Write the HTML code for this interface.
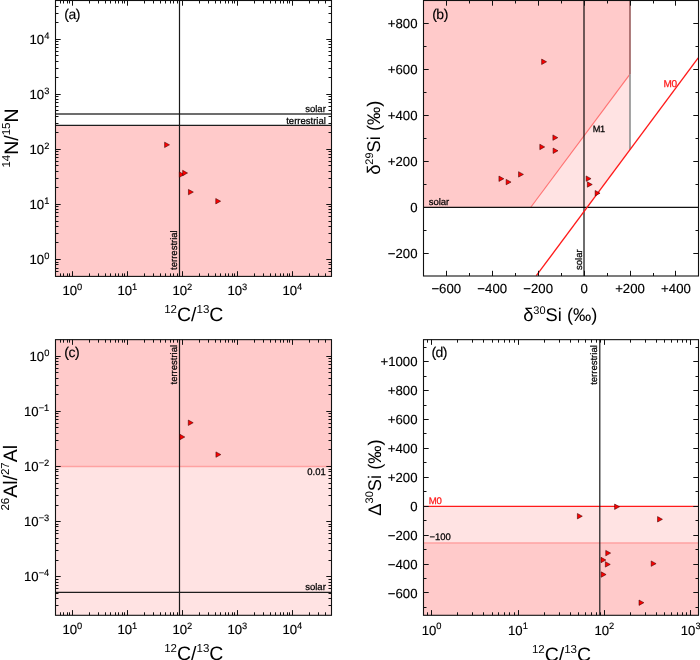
<!DOCTYPE html>
<html><head><meta charset="utf-8"><style>
html,body{margin:0;padding:0;background:#fff;width:700px;height:660px;overflow:hidden;}
svg{display:block;font-family:'Liberation Sans', sans-serif;will-change:transform;text-rendering:geometricPrecision;}
</style></head><body>
<svg width="700" height="660" viewBox="0 0 700 660" font-family="'Liberation Sans', sans-serif">
<rect width="700" height="660" fill="#fff"/>
<rect x="55.50" y="125.48" width="276.00" height="150.92" fill="#ffcaca"/>
<line x1="55.50" y1="114.00" x2="331.50" y2="114.00" stroke="#3c3c3c" stroke-width="1.6" />
<line x1="55.50" y1="125.40" x2="331.50" y2="125.40" stroke="#1e1e1e" stroke-width="1.2" />
<line x1="179.50" y1="0.50" x2="179.50" y2="276.40" stroke="#1a1a1a" stroke-width="1.2" />
<text x="325.80" y="111.70" font-size="9.5" text-anchor="end" fill="#000" stroke="#000" stroke-width="0.25" >solar</text>
<text x="325.80" y="123.80" font-size="9.5" text-anchor="end" fill="#000" stroke="#000" stroke-width="0.25" >terrestrial</text>
<text transform="translate(177.30,269.90) rotate(-90)" font-size="9.5" fill="#000" stroke="#000" stroke-width="0.25" >terrestrial</text>
<text x="64.30" y="18.60" font-size="14" text-anchor="start" fill="#000" stroke="#000" stroke-width="0.15" letter-spacing="-0.5">(a)</text>
<polygon points="164.60,142.15 169.50,144.85 164.60,147.55" fill="#ff0000" stroke="#3a0000" stroke-width="0.55"/>
<polygon points="179.35,171.90 184.25,174.60 179.35,177.30" fill="#ff0000" stroke="#3a0000" stroke-width="0.55"/>
<polygon points="182.65,170.30 187.55,173.00 182.65,175.70" fill="#ff0000" stroke="#3a0000" stroke-width="0.55"/>
<polygon points="188.45,189.40 193.35,192.10 188.45,194.80" fill="#ff0000" stroke="#3a0000" stroke-width="0.55"/>
<polygon points="215.75,198.50 220.65,201.20 215.75,203.90" fill="#ff0000" stroke="#3a0000" stroke-width="0.55"/>
<line x1="72.50" y1="276.40" x2="72.50" y2="271.20" stroke="#111" stroke-width="1.0" />
<line x1="72.50" y1="0.50" x2="72.50" y2="5.70" stroke="#111" stroke-width="1.0" />
<line x1="127.50" y1="276.40" x2="127.50" y2="271.20" stroke="#111" stroke-width="1.0" />
<line x1="127.50" y1="0.50" x2="127.50" y2="5.70" stroke="#111" stroke-width="1.0" />
<line x1="182.50" y1="276.40" x2="182.50" y2="271.20" stroke="#111" stroke-width="1.0" />
<line x1="182.50" y1="0.50" x2="182.50" y2="5.70" stroke="#111" stroke-width="1.0" />
<line x1="237.50" y1="276.40" x2="237.50" y2="271.20" stroke="#111" stroke-width="1.0" />
<line x1="237.50" y1="0.50" x2="237.50" y2="5.70" stroke="#111" stroke-width="1.0" />
<line x1="292.50" y1="276.40" x2="292.50" y2="271.20" stroke="#111" stroke-width="1.0" />
<line x1="292.50" y1="0.50" x2="292.50" y2="5.70" stroke="#111" stroke-width="1.0" />
<line x1="60.50" y1="276.40" x2="60.50" y2="273.40" stroke="#111" stroke-width="1.0" />
<line x1="60.50" y1="0.50" x2="60.50" y2="3.50" stroke="#111" stroke-width="1.0" />
<line x1="63.50" y1="276.40" x2="63.50" y2="273.40" stroke="#111" stroke-width="1.0" />
<line x1="63.50" y1="0.50" x2="63.50" y2="3.50" stroke="#111" stroke-width="1.0" />
<line x1="67.50" y1="276.40" x2="67.50" y2="273.40" stroke="#111" stroke-width="1.0" />
<line x1="67.50" y1="0.50" x2="67.50" y2="3.50" stroke="#111" stroke-width="1.0" />
<line x1="69.50" y1="276.40" x2="69.50" y2="273.40" stroke="#111" stroke-width="1.0" />
<line x1="69.50" y1="0.50" x2="69.50" y2="3.50" stroke="#111" stroke-width="1.0" />
<line x1="89.50" y1="276.40" x2="89.50" y2="273.40" stroke="#111" stroke-width="1.0" />
<line x1="89.50" y1="0.50" x2="89.50" y2="3.50" stroke="#111" stroke-width="1.0" />
<line x1="98.50" y1="276.40" x2="98.50" y2="273.40" stroke="#111" stroke-width="1.0" />
<line x1="98.50" y1="0.50" x2="98.50" y2="3.50" stroke="#111" stroke-width="1.0" />
<line x1="105.50" y1="276.40" x2="105.50" y2="273.40" stroke="#111" stroke-width="1.0" />
<line x1="105.50" y1="0.50" x2="105.50" y2="3.50" stroke="#111" stroke-width="1.0" />
<line x1="110.50" y1="276.40" x2="110.50" y2="273.40" stroke="#111" stroke-width="1.0" />
<line x1="110.50" y1="0.50" x2="110.50" y2="3.50" stroke="#111" stroke-width="1.0" />
<line x1="115.50" y1="276.40" x2="115.50" y2="273.40" stroke="#111" stroke-width="1.0" />
<line x1="115.50" y1="0.50" x2="115.50" y2="3.50" stroke="#111" stroke-width="1.0" />
<line x1="118.50" y1="276.40" x2="118.50" y2="273.40" stroke="#111" stroke-width="1.0" />
<line x1="118.50" y1="0.50" x2="118.50" y2="3.50" stroke="#111" stroke-width="1.0" />
<line x1="122.50" y1="276.40" x2="122.50" y2="273.40" stroke="#111" stroke-width="1.0" />
<line x1="122.50" y1="0.50" x2="122.50" y2="3.50" stroke="#111" stroke-width="1.0" />
<line x1="124.50" y1="276.40" x2="124.50" y2="273.40" stroke="#111" stroke-width="1.0" />
<line x1="124.50" y1="0.50" x2="124.50" y2="3.50" stroke="#111" stroke-width="1.0" />
<line x1="144.50" y1="276.40" x2="144.50" y2="273.40" stroke="#111" stroke-width="1.0" />
<line x1="144.50" y1="0.50" x2="144.50" y2="3.50" stroke="#111" stroke-width="1.0" />
<line x1="153.50" y1="276.40" x2="153.50" y2="273.40" stroke="#111" stroke-width="1.0" />
<line x1="153.50" y1="0.50" x2="153.50" y2="3.50" stroke="#111" stroke-width="1.0" />
<line x1="160.50" y1="276.40" x2="160.50" y2="273.40" stroke="#111" stroke-width="1.0" />
<line x1="160.50" y1="0.50" x2="160.50" y2="3.50" stroke="#111" stroke-width="1.0" />
<line x1="165.50" y1="276.40" x2="165.50" y2="273.40" stroke="#111" stroke-width="1.0" />
<line x1="165.50" y1="0.50" x2="165.50" y2="3.50" stroke="#111" stroke-width="1.0" />
<line x1="170.50" y1="276.40" x2="170.50" y2="273.40" stroke="#111" stroke-width="1.0" />
<line x1="170.50" y1="0.50" x2="170.50" y2="3.50" stroke="#111" stroke-width="1.0" />
<line x1="173.50" y1="276.40" x2="173.50" y2="273.40" stroke="#111" stroke-width="1.0" />
<line x1="173.50" y1="0.50" x2="173.50" y2="3.50" stroke="#111" stroke-width="1.0" />
<line x1="177.50" y1="276.40" x2="177.50" y2="273.40" stroke="#111" stroke-width="1.0" />
<line x1="177.50" y1="0.50" x2="177.50" y2="3.50" stroke="#111" stroke-width="1.0" />
<line x1="179.50" y1="276.40" x2="179.50" y2="273.40" stroke="#111" stroke-width="1.0" />
<line x1="179.50" y1="0.50" x2="179.50" y2="3.50" stroke="#111" stroke-width="1.0" />
<line x1="199.50" y1="276.40" x2="199.50" y2="273.40" stroke="#111" stroke-width="1.0" />
<line x1="199.50" y1="0.50" x2="199.50" y2="3.50" stroke="#111" stroke-width="1.0" />
<line x1="208.50" y1="276.40" x2="208.50" y2="273.40" stroke="#111" stroke-width="1.0" />
<line x1="208.50" y1="0.50" x2="208.50" y2="3.50" stroke="#111" stroke-width="1.0" />
<line x1="215.50" y1="276.40" x2="215.50" y2="273.40" stroke="#111" stroke-width="1.0" />
<line x1="215.50" y1="0.50" x2="215.50" y2="3.50" stroke="#111" stroke-width="1.0" />
<line x1="220.50" y1="276.40" x2="220.50" y2="273.40" stroke="#111" stroke-width="1.0" />
<line x1="220.50" y1="0.50" x2="220.50" y2="3.50" stroke="#111" stroke-width="1.0" />
<line x1="225.50" y1="276.40" x2="225.50" y2="273.40" stroke="#111" stroke-width="1.0" />
<line x1="225.50" y1="0.50" x2="225.50" y2="3.50" stroke="#111" stroke-width="1.0" />
<line x1="228.50" y1="276.40" x2="228.50" y2="273.40" stroke="#111" stroke-width="1.0" />
<line x1="228.50" y1="0.50" x2="228.50" y2="3.50" stroke="#111" stroke-width="1.0" />
<line x1="232.50" y1="276.40" x2="232.50" y2="273.40" stroke="#111" stroke-width="1.0" />
<line x1="232.50" y1="0.50" x2="232.50" y2="3.50" stroke="#111" stroke-width="1.0" />
<line x1="234.50" y1="276.40" x2="234.50" y2="273.40" stroke="#111" stroke-width="1.0" />
<line x1="234.50" y1="0.50" x2="234.50" y2="3.50" stroke="#111" stroke-width="1.0" />
<line x1="254.50" y1="276.40" x2="254.50" y2="273.40" stroke="#111" stroke-width="1.0" />
<line x1="254.50" y1="0.50" x2="254.50" y2="3.50" stroke="#111" stroke-width="1.0" />
<line x1="263.50" y1="276.40" x2="263.50" y2="273.40" stroke="#111" stroke-width="1.0" />
<line x1="263.50" y1="0.50" x2="263.50" y2="3.50" stroke="#111" stroke-width="1.0" />
<line x1="270.50" y1="276.40" x2="270.50" y2="273.40" stroke="#111" stroke-width="1.0" />
<line x1="270.50" y1="0.50" x2="270.50" y2="3.50" stroke="#111" stroke-width="1.0" />
<line x1="275.50" y1="276.40" x2="275.50" y2="273.40" stroke="#111" stroke-width="1.0" />
<line x1="275.50" y1="0.50" x2="275.50" y2="3.50" stroke="#111" stroke-width="1.0" />
<line x1="280.50" y1="276.40" x2="280.50" y2="273.40" stroke="#111" stroke-width="1.0" />
<line x1="280.50" y1="0.50" x2="280.50" y2="3.50" stroke="#111" stroke-width="1.0" />
<line x1="283.50" y1="276.40" x2="283.50" y2="273.40" stroke="#111" stroke-width="1.0" />
<line x1="283.50" y1="0.50" x2="283.50" y2="3.50" stroke="#111" stroke-width="1.0" />
<line x1="287.50" y1="276.40" x2="287.50" y2="273.40" stroke="#111" stroke-width="1.0" />
<line x1="287.50" y1="0.50" x2="287.50" y2="3.50" stroke="#111" stroke-width="1.0" />
<line x1="289.50" y1="276.40" x2="289.50" y2="273.40" stroke="#111" stroke-width="1.0" />
<line x1="289.50" y1="0.50" x2="289.50" y2="3.50" stroke="#111" stroke-width="1.0" />
<line x1="309.50" y1="276.40" x2="309.50" y2="273.40" stroke="#111" stroke-width="1.0" />
<line x1="309.50" y1="0.50" x2="309.50" y2="3.50" stroke="#111" stroke-width="1.0" />
<line x1="318.50" y1="276.40" x2="318.50" y2="273.40" stroke="#111" stroke-width="1.0" />
<line x1="318.50" y1="0.50" x2="318.50" y2="3.50" stroke="#111" stroke-width="1.0" />
<line x1="325.50" y1="276.40" x2="325.50" y2="273.40" stroke="#111" stroke-width="1.0" />
<line x1="325.50" y1="0.50" x2="325.50" y2="3.50" stroke="#111" stroke-width="1.0" />
<line x1="55.50" y1="259.50" x2="60.70" y2="259.50" stroke="#111" stroke-width="1.0" />
<line x1="331.50" y1="259.50" x2="326.30" y2="259.50" stroke="#111" stroke-width="1.0" />
<line x1="55.50" y1="204.50" x2="60.70" y2="204.50" stroke="#111" stroke-width="1.0" />
<line x1="331.50" y1="204.50" x2="326.30" y2="204.50" stroke="#111" stroke-width="1.0" />
<line x1="55.50" y1="149.50" x2="60.70" y2="149.50" stroke="#111" stroke-width="1.0" />
<line x1="331.50" y1="149.50" x2="326.30" y2="149.50" stroke="#111" stroke-width="1.0" />
<line x1="55.50" y1="94.50" x2="60.70" y2="94.50" stroke="#111" stroke-width="1.0" />
<line x1="331.50" y1="94.50" x2="326.30" y2="94.50" stroke="#111" stroke-width="1.0" />
<line x1="55.50" y1="39.50" x2="60.70" y2="39.50" stroke="#111" stroke-width="1.0" />
<line x1="331.50" y1="39.50" x2="326.30" y2="39.50" stroke="#111" stroke-width="1.0" />
<line x1="55.50" y1="271.50" x2="58.50" y2="271.50" stroke="#111" stroke-width="1.0" />
<line x1="331.50" y1="271.50" x2="328.50" y2="271.50" stroke="#111" stroke-width="1.0" />
<line x1="55.50" y1="268.50" x2="58.50" y2="268.50" stroke="#111" stroke-width="1.0" />
<line x1="331.50" y1="268.50" x2="328.50" y2="268.50" stroke="#111" stroke-width="1.0" />
<line x1="55.50" y1="264.50" x2="58.50" y2="264.50" stroke="#111" stroke-width="1.0" />
<line x1="331.50" y1="264.50" x2="328.50" y2="264.50" stroke="#111" stroke-width="1.0" />
<line x1="55.50" y1="262.50" x2="58.50" y2="262.50" stroke="#111" stroke-width="1.0" />
<line x1="331.50" y1="262.50" x2="328.50" y2="262.50" stroke="#111" stroke-width="1.0" />
<line x1="55.50" y1="242.50" x2="58.50" y2="242.50" stroke="#111" stroke-width="1.0" />
<line x1="331.50" y1="242.50" x2="328.50" y2="242.50" stroke="#111" stroke-width="1.0" />
<line x1="55.50" y1="233.50" x2="58.50" y2="233.50" stroke="#111" stroke-width="1.0" />
<line x1="331.50" y1="233.50" x2="328.50" y2="233.50" stroke="#111" stroke-width="1.0" />
<line x1="55.50" y1="226.50" x2="58.50" y2="226.50" stroke="#111" stroke-width="1.0" />
<line x1="331.50" y1="226.50" x2="328.50" y2="226.50" stroke="#111" stroke-width="1.0" />
<line x1="55.50" y1="221.50" x2="58.50" y2="221.50" stroke="#111" stroke-width="1.0" />
<line x1="331.50" y1="221.50" x2="328.50" y2="221.50" stroke="#111" stroke-width="1.0" />
<line x1="55.50" y1="216.50" x2="58.50" y2="216.50" stroke="#111" stroke-width="1.0" />
<line x1="331.50" y1="216.50" x2="328.50" y2="216.50" stroke="#111" stroke-width="1.0" />
<line x1="55.50" y1="212.50" x2="58.50" y2="212.50" stroke="#111" stroke-width="1.0" />
<line x1="331.50" y1="212.50" x2="328.50" y2="212.50" stroke="#111" stroke-width="1.0" />
<line x1="55.50" y1="209.50" x2="58.50" y2="209.50" stroke="#111" stroke-width="1.0" />
<line x1="331.50" y1="209.50" x2="328.50" y2="209.50" stroke="#111" stroke-width="1.0" />
<line x1="55.50" y1="206.50" x2="58.50" y2="206.50" stroke="#111" stroke-width="1.0" />
<line x1="331.50" y1="206.50" x2="328.50" y2="206.50" stroke="#111" stroke-width="1.0" />
<line x1="55.50" y1="187.50" x2="58.50" y2="187.50" stroke="#111" stroke-width="1.0" />
<line x1="331.50" y1="187.50" x2="328.50" y2="187.50" stroke="#111" stroke-width="1.0" />
<line x1="55.50" y1="178.50" x2="58.50" y2="178.50" stroke="#111" stroke-width="1.0" />
<line x1="331.50" y1="178.50" x2="328.50" y2="178.50" stroke="#111" stroke-width="1.0" />
<line x1="55.50" y1="171.50" x2="58.50" y2="171.50" stroke="#111" stroke-width="1.0" />
<line x1="331.50" y1="171.50" x2="328.50" y2="171.50" stroke="#111" stroke-width="1.0" />
<line x1="55.50" y1="165.50" x2="58.50" y2="165.50" stroke="#111" stroke-width="1.0" />
<line x1="331.50" y1="165.50" x2="328.50" y2="165.50" stroke="#111" stroke-width="1.0" />
<line x1="55.50" y1="161.50" x2="58.50" y2="161.50" stroke="#111" stroke-width="1.0" />
<line x1="331.50" y1="161.50" x2="328.50" y2="161.50" stroke="#111" stroke-width="1.0" />
<line x1="55.50" y1="157.50" x2="58.50" y2="157.50" stroke="#111" stroke-width="1.0" />
<line x1="331.50" y1="157.50" x2="328.50" y2="157.50" stroke="#111" stroke-width="1.0" />
<line x1="55.50" y1="154.50" x2="58.50" y2="154.50" stroke="#111" stroke-width="1.0" />
<line x1="331.50" y1="154.50" x2="328.50" y2="154.50" stroke="#111" stroke-width="1.0" />
<line x1="55.50" y1="151.50" x2="58.50" y2="151.50" stroke="#111" stroke-width="1.0" />
<line x1="331.50" y1="151.50" x2="328.50" y2="151.50" stroke="#111" stroke-width="1.0" />
<line x1="55.50" y1="132.50" x2="58.50" y2="132.50" stroke="#111" stroke-width="1.0" />
<line x1="331.50" y1="132.50" x2="328.50" y2="132.50" stroke="#111" stroke-width="1.0" />
<line x1="55.50" y1="123.50" x2="58.50" y2="123.50" stroke="#111" stroke-width="1.0" />
<line x1="331.50" y1="123.50" x2="328.50" y2="123.50" stroke="#111" stroke-width="1.0" />
<line x1="55.50" y1="116.50" x2="58.50" y2="116.50" stroke="#111" stroke-width="1.0" />
<line x1="331.50" y1="116.50" x2="328.50" y2="116.50" stroke="#111" stroke-width="1.0" />
<line x1="55.50" y1="110.50" x2="58.50" y2="110.50" stroke="#111" stroke-width="1.0" />
<line x1="331.50" y1="110.50" x2="328.50" y2="110.50" stroke="#111" stroke-width="1.0" />
<line x1="55.50" y1="106.50" x2="58.50" y2="106.50" stroke="#111" stroke-width="1.0" />
<line x1="331.50" y1="106.50" x2="328.50" y2="106.50" stroke="#111" stroke-width="1.0" />
<line x1="55.50" y1="102.50" x2="58.50" y2="102.50" stroke="#111" stroke-width="1.0" />
<line x1="331.50" y1="102.50" x2="328.50" y2="102.50" stroke="#111" stroke-width="1.0" />
<line x1="55.50" y1="99.50" x2="58.50" y2="99.50" stroke="#111" stroke-width="1.0" />
<line x1="331.50" y1="99.50" x2="328.50" y2="99.50" stroke="#111" stroke-width="1.0" />
<line x1="55.50" y1="96.50" x2="58.50" y2="96.50" stroke="#111" stroke-width="1.0" />
<line x1="331.50" y1="96.50" x2="328.50" y2="96.50" stroke="#111" stroke-width="1.0" />
<line x1="55.50" y1="77.50" x2="58.50" y2="77.50" stroke="#111" stroke-width="1.0" />
<line x1="331.50" y1="77.50" x2="328.50" y2="77.50" stroke="#111" stroke-width="1.0" />
<line x1="55.50" y1="68.50" x2="58.50" y2="68.50" stroke="#111" stroke-width="1.0" />
<line x1="331.50" y1="68.50" x2="328.50" y2="68.50" stroke="#111" stroke-width="1.0" />
<line x1="55.50" y1="61.50" x2="58.50" y2="61.50" stroke="#111" stroke-width="1.0" />
<line x1="331.50" y1="61.50" x2="328.50" y2="61.50" stroke="#111" stroke-width="1.0" />
<line x1="55.50" y1="55.50" x2="58.50" y2="55.50" stroke="#111" stroke-width="1.0" />
<line x1="331.50" y1="55.50" x2="328.50" y2="55.50" stroke="#111" stroke-width="1.0" />
<line x1="55.50" y1="51.50" x2="58.50" y2="51.50" stroke="#111" stroke-width="1.0" />
<line x1="331.50" y1="51.50" x2="328.50" y2="51.50" stroke="#111" stroke-width="1.0" />
<line x1="55.50" y1="47.50" x2="58.50" y2="47.50" stroke="#111" stroke-width="1.0" />
<line x1="331.50" y1="47.50" x2="328.50" y2="47.50" stroke="#111" stroke-width="1.0" />
<line x1="55.50" y1="44.50" x2="58.50" y2="44.50" stroke="#111" stroke-width="1.0" />
<line x1="331.50" y1="44.50" x2="328.50" y2="44.50" stroke="#111" stroke-width="1.0" />
<line x1="55.50" y1="41.50" x2="58.50" y2="41.50" stroke="#111" stroke-width="1.0" />
<line x1="331.50" y1="41.50" x2="328.50" y2="41.50" stroke="#111" stroke-width="1.0" />
<line x1="55.50" y1="22.50" x2="58.50" y2="22.50" stroke="#111" stroke-width="1.0" />
<line x1="331.50" y1="22.50" x2="328.50" y2="22.50" stroke="#111" stroke-width="1.0" />
<line x1="55.50" y1="13.50" x2="58.50" y2="13.50" stroke="#111" stroke-width="1.0" />
<line x1="331.50" y1="13.50" x2="328.50" y2="13.50" stroke="#111" stroke-width="1.0" />
<line x1="55.50" y1="6.50" x2="58.50" y2="6.50" stroke="#111" stroke-width="1.0" />
<line x1="331.50" y1="6.50" x2="328.50" y2="6.50" stroke="#111" stroke-width="1.0" />
<rect x="55.50" y="0.50" width="276.00" height="275.90" fill="none" stroke="#111" stroke-width="1.1"/>
<text x="72.30" y="295.30" font-size="13.2" text-anchor="middle" fill="#000" stroke="#000" stroke-width="0.15" >10<tspan font-size="9.3" dy="-5.3">0</tspan></text>
<text x="49.30" y="264.20" font-size="13.2" text-anchor="end" fill="#000" stroke="#000" stroke-width="0.15" >10<tspan font-size="9.3" dy="-5.3">0</tspan></text>
<text x="127.30" y="295.30" font-size="13.2" text-anchor="middle" fill="#000" stroke="#000" stroke-width="0.15" >10<tspan font-size="9.3" dy="-5.3">1</tspan></text>
<text x="49.30" y="209.15" font-size="13.2" text-anchor="end" fill="#000" stroke="#000" stroke-width="0.15" >10<tspan font-size="9.3" dy="-5.3">1</tspan></text>
<text x="182.30" y="295.30" font-size="13.2" text-anchor="middle" fill="#000" stroke="#000" stroke-width="0.15" >10<tspan font-size="9.3" dy="-5.3">2</tspan></text>
<text x="49.30" y="154.10" font-size="13.2" text-anchor="end" fill="#000" stroke="#000" stroke-width="0.15" >10<tspan font-size="9.3" dy="-5.3">2</tspan></text>
<text x="237.30" y="295.30" font-size="13.2" text-anchor="middle" fill="#000" stroke="#000" stroke-width="0.15" >10<tspan font-size="9.3" dy="-5.3">3</tspan></text>
<text x="49.30" y="99.05" font-size="13.2" text-anchor="end" fill="#000" stroke="#000" stroke-width="0.15" >10<tspan font-size="9.3" dy="-5.3">3</tspan></text>
<text x="292.30" y="295.30" font-size="13.2" text-anchor="middle" fill="#000" stroke="#000" stroke-width="0.15" >10<tspan font-size="9.3" dy="-5.3">4</tspan></text>
<text x="49.30" y="44.00" font-size="13.2" text-anchor="end" fill="#000" stroke="#000" stroke-width="0.15" >10<tspan font-size="9.3" dy="-5.3">4</tspan></text>
<text x="193.80" y="321.00" font-size="19.5" text-anchor="middle" fill="#000"  ><tspan font-size="11.5" dy="-8">12</tspan><tspan dy="8">C/</tspan><tspan font-size="11.5" dy="-8">13</tspan><tspan dy="8">C</tspan></text>
<text transform="translate(17.9,138) rotate(-90)" font-size="19.5" text-anchor="middle"><tspan font-size="11.5" dy="-8">14</tspan><tspan dy="8">N/</tspan><tspan font-size="11.5" dy="-8">15</tspan><tspan dy="8">N</tspan></text>
<polygon points="423.50,0.50 630.00,0.50 630.00,74.20 530.60,207.50 423.50,207.50" fill="#ffcaca" />
<polygon points="530.60,207.50 630.00,74.20 630.00,149.70 587.03,207.50" fill="#ffe3e3" />
<line x1="530.60" y1="207.50" x2="630.00" y2="74.20" stroke="#ff7272" stroke-width="1.15" />
<line x1="630.00" y1="0.50" x2="630.00" y2="74.20" stroke="#9a5e5e" stroke-width="1.6" />
<line x1="630.00" y1="74.20" x2="630.00" y2="149.70" stroke="#8e8e8e" stroke-width="1.6" />
<line x1="423.50" y1="207.40" x2="698.50" y2="207.40" stroke="#111" stroke-width="1.2" />
<line x1="584.00" y1="0.50" x2="584.00" y2="276.00" stroke="#000" stroke-width="1.9" stroke-opacity="0.6"/>
<line x1="536.32" y1="275.70" x2="698.20" y2="57.97" stroke="#ff1a1a" stroke-width="1.35" />
<text x="663.60" y="87.10" font-size="10" text-anchor="start" fill="#ff1a1a" stroke="#ff1a1a" stroke-width="0.25" letter-spacing="-0.4">M0</text>
<text x="592.80" y="131.80" font-size="9.2" text-anchor="start" fill="#000" stroke="#000" stroke-width="0.25" letter-spacing="-0.5">M1</text>
<text x="428.70" y="205.00" font-size="9.5" text-anchor="start" fill="#000" stroke="#000" stroke-width="0.25" >solar</text>
<text transform="translate(582.20,270.00) rotate(-90)" font-size="9.5" fill="#000" stroke="#000" stroke-width="0.25" >solar</text>
<text x="432.20" y="18.60" font-size="14" text-anchor="start" fill="#000" stroke="#000" stroke-width="0.15" letter-spacing="-0.5">(b)</text>
<polygon points="541.65,59.10 546.55,61.80 541.65,64.50" fill="#ff0000" stroke="#3a0000" stroke-width="0.55"/>
<polygon points="552.90,134.95 557.80,137.65 552.90,140.35" fill="#ff0000" stroke="#3a0000" stroke-width="0.55"/>
<polygon points="539.80,144.25 544.70,146.95 539.80,149.65" fill="#ff0000" stroke="#3a0000" stroke-width="0.55"/>
<polygon points="553.10,148.05 558.00,150.75 553.10,153.45" fill="#ff0000" stroke="#3a0000" stroke-width="0.55"/>
<polygon points="498.95,176.05 503.85,178.75 498.95,181.45" fill="#ff0000" stroke="#3a0000" stroke-width="0.55"/>
<polygon points="506.15,179.40 511.05,182.10 506.15,184.80" fill="#ff0000" stroke="#3a0000" stroke-width="0.55"/>
<polygon points="518.55,171.70 523.45,174.40 518.55,177.10" fill="#ff0000" stroke="#3a0000" stroke-width="0.55"/>
<polygon points="586.15,175.95 591.05,178.65 586.15,181.35" fill="#ff0000" stroke="#3a0000" stroke-width="0.55"/>
<polygon points="587.35,181.80 592.25,184.50 587.35,187.20" fill="#ff0000" stroke="#3a0000" stroke-width="0.55"/>
<polygon points="595.15,190.50 600.05,193.20 595.15,195.90" fill="#ff0000" stroke="#3a0000" stroke-width="0.55"/>
<line x1="446.50" y1="276.00" x2="446.50" y2="270.80" stroke="#111" stroke-width="1.0" />
<line x1="446.50" y1="0.50" x2="446.50" y2="5.70" stroke="#111" stroke-width="1.0" />
<line x1="492.50" y1="276.00" x2="492.50" y2="270.80" stroke="#111" stroke-width="1.0" />
<line x1="492.50" y1="0.50" x2="492.50" y2="5.70" stroke="#111" stroke-width="1.0" />
<line x1="538.50" y1="276.00" x2="538.50" y2="270.80" stroke="#111" stroke-width="1.0" />
<line x1="538.50" y1="0.50" x2="538.50" y2="5.70" stroke="#111" stroke-width="1.0" />
<line x1="584.50" y1="276.00" x2="584.50" y2="270.80" stroke="#111" stroke-width="1.0" />
<line x1="584.50" y1="0.50" x2="584.50" y2="5.70" stroke="#111" stroke-width="1.0" />
<line x1="630.50" y1="276.00" x2="630.50" y2="270.80" stroke="#111" stroke-width="1.0" />
<line x1="630.50" y1="0.50" x2="630.50" y2="5.70" stroke="#111" stroke-width="1.0" />
<line x1="675.50" y1="276.00" x2="675.50" y2="270.80" stroke="#111" stroke-width="1.0" />
<line x1="675.50" y1="0.50" x2="675.50" y2="5.70" stroke="#111" stroke-width="1.0" />
<line x1="469.50" y1="276.00" x2="469.50" y2="273.00" stroke="#111" stroke-width="1.0" />
<line x1="469.50" y1="0.50" x2="469.50" y2="3.50" stroke="#111" stroke-width="1.0" />
<line x1="515.50" y1="276.00" x2="515.50" y2="273.00" stroke="#111" stroke-width="1.0" />
<line x1="515.50" y1="0.50" x2="515.50" y2="3.50" stroke="#111" stroke-width="1.0" />
<line x1="561.50" y1="276.00" x2="561.50" y2="273.00" stroke="#111" stroke-width="1.0" />
<line x1="561.50" y1="0.50" x2="561.50" y2="3.50" stroke="#111" stroke-width="1.0" />
<line x1="607.50" y1="276.00" x2="607.50" y2="273.00" stroke="#111" stroke-width="1.0" />
<line x1="607.50" y1="0.50" x2="607.50" y2="3.50" stroke="#111" stroke-width="1.0" />
<line x1="653.50" y1="276.00" x2="653.50" y2="273.00" stroke="#111" stroke-width="1.0" />
<line x1="653.50" y1="0.50" x2="653.50" y2="3.50" stroke="#111" stroke-width="1.0" />
<line x1="423.50" y1="253.50" x2="428.70" y2="253.50" stroke="#111" stroke-width="1.0" />
<line x1="698.50" y1="253.50" x2="693.30" y2="253.50" stroke="#111" stroke-width="1.0" />
<line x1="423.50" y1="207.50" x2="428.70" y2="207.50" stroke="#111" stroke-width="1.0" />
<line x1="698.50" y1="207.50" x2="693.30" y2="207.50" stroke="#111" stroke-width="1.0" />
<line x1="423.50" y1="161.50" x2="428.70" y2="161.50" stroke="#111" stroke-width="1.0" />
<line x1="698.50" y1="161.50" x2="693.30" y2="161.50" stroke="#111" stroke-width="1.0" />
<line x1="423.50" y1="115.50" x2="428.70" y2="115.50" stroke="#111" stroke-width="1.0" />
<line x1="698.50" y1="115.50" x2="693.30" y2="115.50" stroke="#111" stroke-width="1.0" />
<line x1="423.50" y1="69.50" x2="428.70" y2="69.50" stroke="#111" stroke-width="1.0" />
<line x1="698.50" y1="69.50" x2="693.30" y2="69.50" stroke="#111" stroke-width="1.0" />
<line x1="423.50" y1="23.50" x2="428.70" y2="23.50" stroke="#111" stroke-width="1.0" />
<line x1="698.50" y1="23.50" x2="693.30" y2="23.50" stroke="#111" stroke-width="1.0" />
<line x1="423.50" y1="230.50" x2="426.50" y2="230.50" stroke="#111" stroke-width="1.0" />
<line x1="698.50" y1="230.50" x2="695.50" y2="230.50" stroke="#111" stroke-width="1.0" />
<line x1="423.50" y1="184.50" x2="426.50" y2="184.50" stroke="#111" stroke-width="1.0" />
<line x1="698.50" y1="184.50" x2="695.50" y2="184.50" stroke="#111" stroke-width="1.0" />
<line x1="423.50" y1="138.50" x2="426.50" y2="138.50" stroke="#111" stroke-width="1.0" />
<line x1="698.50" y1="138.50" x2="695.50" y2="138.50" stroke="#111" stroke-width="1.0" />
<line x1="423.50" y1="92.50" x2="426.50" y2="92.50" stroke="#111" stroke-width="1.0" />
<line x1="698.50" y1="92.50" x2="695.50" y2="92.50" stroke="#111" stroke-width="1.0" />
<line x1="423.50" y1="46.50" x2="426.50" y2="46.50" stroke="#111" stroke-width="1.0" />
<line x1="698.50" y1="46.50" x2="695.50" y2="46.50" stroke="#111" stroke-width="1.0" />
<rect x="423.50" y="0.50" width="275.00" height="275.50" fill="none" stroke="#111" stroke-width="1.1"/>
<text x="446.28" y="293.30" font-size="13.2" text-anchor="middle" fill="#000" stroke="#000" stroke-width="0.15" >−600</text>
<text x="492.22" y="293.30" font-size="13.2" text-anchor="middle" fill="#000" stroke="#000" stroke-width="0.15" >−400</text>
<text x="538.16" y="293.30" font-size="13.2" text-anchor="middle" fill="#000" stroke="#000" stroke-width="0.15" >−200</text>
<text x="584.10" y="293.30" font-size="13.2" text-anchor="middle" fill="#000" stroke="#000" stroke-width="0.15" >0</text>
<text x="630.04" y="293.30" font-size="13.2" text-anchor="middle" fill="#000" stroke="#000" stroke-width="0.15" >+200</text>
<text x="675.98" y="293.30" font-size="13.2" text-anchor="middle" fill="#000" stroke="#000" stroke-width="0.15" >+400</text>
<text x="417.50" y="257.70" font-size="13.2" text-anchor="end" fill="#000" stroke="#000" stroke-width="0.15" >−200</text>
<text x="417.50" y="211.80" font-size="13.2" text-anchor="end" fill="#000" stroke="#000" stroke-width="0.15" >0</text>
<text x="417.50" y="165.90" font-size="13.2" text-anchor="end" fill="#000" stroke="#000" stroke-width="0.15" >+200</text>
<text x="417.50" y="120.00" font-size="13.2" text-anchor="end" fill="#000" stroke="#000" stroke-width="0.15" >+400</text>
<text x="417.50" y="74.10" font-size="13.2" text-anchor="end" fill="#000" stroke="#000" stroke-width="0.15" >+600</text>
<text x="417.50" y="28.20" font-size="13.2" text-anchor="end" fill="#000" stroke="#000" stroke-width="0.15" >+800</text>
<text x="560.30" y="321.00" font-size="18.3" text-anchor="middle" fill="#000"  >δ<tspan font-size="11" dy="-7.5">30</tspan><tspan dy="7.5">Si (‰)</tspan></text>
<text transform="translate(380.3,137.75) rotate(-90)" font-size="18.3" text-anchor="middle">δ<tspan font-size="11" dy="-7.5">29</tspan><tspan dy="7.5">Si (‰)</tspan></text>
<rect x="55.50" y="339.65" width="276.00" height="126.75" fill="#ffcaca"/>
<rect x="55.50" y="466.40" width="276.00" height="148.90" fill="#ffe3e3"/>
<line x1="55.50" y1="466.40" x2="331.50" y2="466.40" stroke="#ffa2a2" stroke-width="1.5" />
<line x1="55.50" y1="592.40" x2="331.50" y2="592.40" stroke="#1e1e1e" stroke-width="1.3" />
<line x1="179.50" y1="339.65" x2="179.50" y2="615.30" stroke="#1a1a1a" stroke-width="1.2" />
<text x="325.80" y="475.20" font-size="9.5" text-anchor="end" fill="#000" stroke="#000" stroke-width="0.25" >0.01</text>
<text x="325.80" y="589.80" font-size="9.5" text-anchor="end" fill="#000" stroke="#000" stroke-width="0.25" >solar</text>
<text transform="translate(177.30,384.50) rotate(-90)" font-size="9.5" fill="#000" stroke="#000" stroke-width="0.25" >terrestrial</text>
<text x="64.30" y="357.40" font-size="14" text-anchor="start" fill="#000" stroke="#000" stroke-width="0.15" letter-spacing="-0.5">(c)</text>
<polygon points="188.30,420.05 193.20,422.75 188.30,425.45" fill="#ff0000" stroke="#3a0000" stroke-width="0.55"/>
<polygon points="179.90,434.30 184.80,437.00 179.90,439.70" fill="#ff0000" stroke="#3a0000" stroke-width="0.55"/>
<polygon points="215.95,451.90 220.85,454.60 215.95,457.30" fill="#ff0000" stroke="#3a0000" stroke-width="0.55"/>
<line x1="72.50" y1="615.30" x2="72.50" y2="610.10" stroke="#111" stroke-width="1.0" />
<line x1="72.50" y1="339.65" x2="72.50" y2="344.85" stroke="#111" stroke-width="1.0" />
<line x1="127.50" y1="615.30" x2="127.50" y2="610.10" stroke="#111" stroke-width="1.0" />
<line x1="127.50" y1="339.65" x2="127.50" y2="344.85" stroke="#111" stroke-width="1.0" />
<line x1="182.50" y1="615.30" x2="182.50" y2="610.10" stroke="#111" stroke-width="1.0" />
<line x1="182.50" y1="339.65" x2="182.50" y2="344.85" stroke="#111" stroke-width="1.0" />
<line x1="237.50" y1="615.30" x2="237.50" y2="610.10" stroke="#111" stroke-width="1.0" />
<line x1="237.50" y1="339.65" x2="237.50" y2="344.85" stroke="#111" stroke-width="1.0" />
<line x1="292.50" y1="615.30" x2="292.50" y2="610.10" stroke="#111" stroke-width="1.0" />
<line x1="292.50" y1="339.65" x2="292.50" y2="344.85" stroke="#111" stroke-width="1.0" />
<line x1="60.50" y1="615.30" x2="60.50" y2="612.30" stroke="#111" stroke-width="1.0" />
<line x1="60.50" y1="339.65" x2="60.50" y2="342.65" stroke="#111" stroke-width="1.0" />
<line x1="63.50" y1="615.30" x2="63.50" y2="612.30" stroke="#111" stroke-width="1.0" />
<line x1="63.50" y1="339.65" x2="63.50" y2="342.65" stroke="#111" stroke-width="1.0" />
<line x1="67.50" y1="615.30" x2="67.50" y2="612.30" stroke="#111" stroke-width="1.0" />
<line x1="67.50" y1="339.65" x2="67.50" y2="342.65" stroke="#111" stroke-width="1.0" />
<line x1="69.50" y1="615.30" x2="69.50" y2="612.30" stroke="#111" stroke-width="1.0" />
<line x1="69.50" y1="339.65" x2="69.50" y2="342.65" stroke="#111" stroke-width="1.0" />
<line x1="89.50" y1="615.30" x2="89.50" y2="612.30" stroke="#111" stroke-width="1.0" />
<line x1="89.50" y1="339.65" x2="89.50" y2="342.65" stroke="#111" stroke-width="1.0" />
<line x1="98.50" y1="615.30" x2="98.50" y2="612.30" stroke="#111" stroke-width="1.0" />
<line x1="98.50" y1="339.65" x2="98.50" y2="342.65" stroke="#111" stroke-width="1.0" />
<line x1="105.50" y1="615.30" x2="105.50" y2="612.30" stroke="#111" stroke-width="1.0" />
<line x1="105.50" y1="339.65" x2="105.50" y2="342.65" stroke="#111" stroke-width="1.0" />
<line x1="110.50" y1="615.30" x2="110.50" y2="612.30" stroke="#111" stroke-width="1.0" />
<line x1="110.50" y1="339.65" x2="110.50" y2="342.65" stroke="#111" stroke-width="1.0" />
<line x1="115.50" y1="615.30" x2="115.50" y2="612.30" stroke="#111" stroke-width="1.0" />
<line x1="115.50" y1="339.65" x2="115.50" y2="342.65" stroke="#111" stroke-width="1.0" />
<line x1="118.50" y1="615.30" x2="118.50" y2="612.30" stroke="#111" stroke-width="1.0" />
<line x1="118.50" y1="339.65" x2="118.50" y2="342.65" stroke="#111" stroke-width="1.0" />
<line x1="122.50" y1="615.30" x2="122.50" y2="612.30" stroke="#111" stroke-width="1.0" />
<line x1="122.50" y1="339.65" x2="122.50" y2="342.65" stroke="#111" stroke-width="1.0" />
<line x1="124.50" y1="615.30" x2="124.50" y2="612.30" stroke="#111" stroke-width="1.0" />
<line x1="124.50" y1="339.65" x2="124.50" y2="342.65" stroke="#111" stroke-width="1.0" />
<line x1="144.50" y1="615.30" x2="144.50" y2="612.30" stroke="#111" stroke-width="1.0" />
<line x1="144.50" y1="339.65" x2="144.50" y2="342.65" stroke="#111" stroke-width="1.0" />
<line x1="153.50" y1="615.30" x2="153.50" y2="612.30" stroke="#111" stroke-width="1.0" />
<line x1="153.50" y1="339.65" x2="153.50" y2="342.65" stroke="#111" stroke-width="1.0" />
<line x1="160.50" y1="615.30" x2="160.50" y2="612.30" stroke="#111" stroke-width="1.0" />
<line x1="160.50" y1="339.65" x2="160.50" y2="342.65" stroke="#111" stroke-width="1.0" />
<line x1="165.50" y1="615.30" x2="165.50" y2="612.30" stroke="#111" stroke-width="1.0" />
<line x1="165.50" y1="339.65" x2="165.50" y2="342.65" stroke="#111" stroke-width="1.0" />
<line x1="170.50" y1="615.30" x2="170.50" y2="612.30" stroke="#111" stroke-width="1.0" />
<line x1="170.50" y1="339.65" x2="170.50" y2="342.65" stroke="#111" stroke-width="1.0" />
<line x1="173.50" y1="615.30" x2="173.50" y2="612.30" stroke="#111" stroke-width="1.0" />
<line x1="173.50" y1="339.65" x2="173.50" y2="342.65" stroke="#111" stroke-width="1.0" />
<line x1="177.50" y1="615.30" x2="177.50" y2="612.30" stroke="#111" stroke-width="1.0" />
<line x1="177.50" y1="339.65" x2="177.50" y2="342.65" stroke="#111" stroke-width="1.0" />
<line x1="179.50" y1="615.30" x2="179.50" y2="612.30" stroke="#111" stroke-width="1.0" />
<line x1="179.50" y1="339.65" x2="179.50" y2="342.65" stroke="#111" stroke-width="1.0" />
<line x1="199.50" y1="615.30" x2="199.50" y2="612.30" stroke="#111" stroke-width="1.0" />
<line x1="199.50" y1="339.65" x2="199.50" y2="342.65" stroke="#111" stroke-width="1.0" />
<line x1="208.50" y1="615.30" x2="208.50" y2="612.30" stroke="#111" stroke-width="1.0" />
<line x1="208.50" y1="339.65" x2="208.50" y2="342.65" stroke="#111" stroke-width="1.0" />
<line x1="215.50" y1="615.30" x2="215.50" y2="612.30" stroke="#111" stroke-width="1.0" />
<line x1="215.50" y1="339.65" x2="215.50" y2="342.65" stroke="#111" stroke-width="1.0" />
<line x1="220.50" y1="615.30" x2="220.50" y2="612.30" stroke="#111" stroke-width="1.0" />
<line x1="220.50" y1="339.65" x2="220.50" y2="342.65" stroke="#111" stroke-width="1.0" />
<line x1="225.50" y1="615.30" x2="225.50" y2="612.30" stroke="#111" stroke-width="1.0" />
<line x1="225.50" y1="339.65" x2="225.50" y2="342.65" stroke="#111" stroke-width="1.0" />
<line x1="228.50" y1="615.30" x2="228.50" y2="612.30" stroke="#111" stroke-width="1.0" />
<line x1="228.50" y1="339.65" x2="228.50" y2="342.65" stroke="#111" stroke-width="1.0" />
<line x1="232.50" y1="615.30" x2="232.50" y2="612.30" stroke="#111" stroke-width="1.0" />
<line x1="232.50" y1="339.65" x2="232.50" y2="342.65" stroke="#111" stroke-width="1.0" />
<line x1="234.50" y1="615.30" x2="234.50" y2="612.30" stroke="#111" stroke-width="1.0" />
<line x1="234.50" y1="339.65" x2="234.50" y2="342.65" stroke="#111" stroke-width="1.0" />
<line x1="254.50" y1="615.30" x2="254.50" y2="612.30" stroke="#111" stroke-width="1.0" />
<line x1="254.50" y1="339.65" x2="254.50" y2="342.65" stroke="#111" stroke-width="1.0" />
<line x1="263.50" y1="615.30" x2="263.50" y2="612.30" stroke="#111" stroke-width="1.0" />
<line x1="263.50" y1="339.65" x2="263.50" y2="342.65" stroke="#111" stroke-width="1.0" />
<line x1="270.50" y1="615.30" x2="270.50" y2="612.30" stroke="#111" stroke-width="1.0" />
<line x1="270.50" y1="339.65" x2="270.50" y2="342.65" stroke="#111" stroke-width="1.0" />
<line x1="275.50" y1="615.30" x2="275.50" y2="612.30" stroke="#111" stroke-width="1.0" />
<line x1="275.50" y1="339.65" x2="275.50" y2="342.65" stroke="#111" stroke-width="1.0" />
<line x1="280.50" y1="615.30" x2="280.50" y2="612.30" stroke="#111" stroke-width="1.0" />
<line x1="280.50" y1="339.65" x2="280.50" y2="342.65" stroke="#111" stroke-width="1.0" />
<line x1="283.50" y1="615.30" x2="283.50" y2="612.30" stroke="#111" stroke-width="1.0" />
<line x1="283.50" y1="339.65" x2="283.50" y2="342.65" stroke="#111" stroke-width="1.0" />
<line x1="287.50" y1="615.30" x2="287.50" y2="612.30" stroke="#111" stroke-width="1.0" />
<line x1="287.50" y1="339.65" x2="287.50" y2="342.65" stroke="#111" stroke-width="1.0" />
<line x1="289.50" y1="615.30" x2="289.50" y2="612.30" stroke="#111" stroke-width="1.0" />
<line x1="289.50" y1="339.65" x2="289.50" y2="342.65" stroke="#111" stroke-width="1.0" />
<line x1="309.50" y1="615.30" x2="309.50" y2="612.30" stroke="#111" stroke-width="1.0" />
<line x1="309.50" y1="339.65" x2="309.50" y2="342.65" stroke="#111" stroke-width="1.0" />
<line x1="318.50" y1="615.30" x2="318.50" y2="612.30" stroke="#111" stroke-width="1.0" />
<line x1="318.50" y1="339.65" x2="318.50" y2="342.65" stroke="#111" stroke-width="1.0" />
<line x1="325.50" y1="615.30" x2="325.50" y2="612.30" stroke="#111" stroke-width="1.0" />
<line x1="325.50" y1="339.65" x2="325.50" y2="342.65" stroke="#111" stroke-width="1.0" />
<line x1="55.50" y1="576.50" x2="60.70" y2="576.50" stroke="#111" stroke-width="1.0" />
<line x1="331.50" y1="576.50" x2="326.30" y2="576.50" stroke="#111" stroke-width="1.0" />
<line x1="55.50" y1="521.50" x2="60.70" y2="521.50" stroke="#111" stroke-width="1.0" />
<line x1="331.50" y1="521.50" x2="326.30" y2="521.50" stroke="#111" stroke-width="1.0" />
<line x1="55.50" y1="466.50" x2="60.70" y2="466.50" stroke="#111" stroke-width="1.0" />
<line x1="331.50" y1="466.50" x2="326.30" y2="466.50" stroke="#111" stroke-width="1.0" />
<line x1="55.50" y1="411.50" x2="60.70" y2="411.50" stroke="#111" stroke-width="1.0" />
<line x1="331.50" y1="411.50" x2="326.30" y2="411.50" stroke="#111" stroke-width="1.0" />
<line x1="55.50" y1="356.50" x2="60.70" y2="356.50" stroke="#111" stroke-width="1.0" />
<line x1="331.50" y1="356.50" x2="326.30" y2="356.50" stroke="#111" stroke-width="1.0" />
<line x1="55.50" y1="605.50" x2="58.50" y2="605.50" stroke="#111" stroke-width="1.0" />
<line x1="331.50" y1="605.50" x2="328.50" y2="605.50" stroke="#111" stroke-width="1.0" />
<line x1="55.50" y1="598.50" x2="58.50" y2="598.50" stroke="#111" stroke-width="1.0" />
<line x1="331.50" y1="598.50" x2="328.50" y2="598.50" stroke="#111" stroke-width="1.0" />
<line x1="55.50" y1="593.50" x2="58.50" y2="593.50" stroke="#111" stroke-width="1.0" />
<line x1="331.50" y1="593.50" x2="328.50" y2="593.50" stroke="#111" stroke-width="1.0" />
<line x1="55.50" y1="588.50" x2="58.50" y2="588.50" stroke="#111" stroke-width="1.0" />
<line x1="331.50" y1="588.50" x2="328.50" y2="588.50" stroke="#111" stroke-width="1.0" />
<line x1="55.50" y1="585.50" x2="58.50" y2="585.50" stroke="#111" stroke-width="1.0" />
<line x1="331.50" y1="585.50" x2="328.50" y2="585.50" stroke="#111" stroke-width="1.0" />
<line x1="55.50" y1="582.50" x2="58.50" y2="582.50" stroke="#111" stroke-width="1.0" />
<line x1="331.50" y1="582.50" x2="328.50" y2="582.50" stroke="#111" stroke-width="1.0" />
<line x1="55.50" y1="579.50" x2="58.50" y2="579.50" stroke="#111" stroke-width="1.0" />
<line x1="331.50" y1="579.50" x2="328.50" y2="579.50" stroke="#111" stroke-width="1.0" />
<line x1="55.50" y1="560.50" x2="58.50" y2="560.50" stroke="#111" stroke-width="1.0" />
<line x1="331.50" y1="560.50" x2="328.50" y2="560.50" stroke="#111" stroke-width="1.0" />
<line x1="55.50" y1="550.50" x2="58.50" y2="550.50" stroke="#111" stroke-width="1.0" />
<line x1="331.50" y1="550.50" x2="328.50" y2="550.50" stroke="#111" stroke-width="1.0" />
<line x1="55.50" y1="543.50" x2="58.50" y2="543.50" stroke="#111" stroke-width="1.0" />
<line x1="331.50" y1="543.50" x2="328.50" y2="543.50" stroke="#111" stroke-width="1.0" />
<line x1="55.50" y1="538.50" x2="58.50" y2="538.50" stroke="#111" stroke-width="1.0" />
<line x1="331.50" y1="538.50" x2="328.50" y2="538.50" stroke="#111" stroke-width="1.0" />
<line x1="55.50" y1="533.50" x2="58.50" y2="533.50" stroke="#111" stroke-width="1.0" />
<line x1="331.50" y1="533.50" x2="328.50" y2="533.50" stroke="#111" stroke-width="1.0" />
<line x1="55.50" y1="530.50" x2="58.50" y2="530.50" stroke="#111" stroke-width="1.0" />
<line x1="331.50" y1="530.50" x2="328.50" y2="530.50" stroke="#111" stroke-width="1.0" />
<line x1="55.50" y1="526.50" x2="58.50" y2="526.50" stroke="#111" stroke-width="1.0" />
<line x1="331.50" y1="526.50" x2="328.50" y2="526.50" stroke="#111" stroke-width="1.0" />
<line x1="55.50" y1="524.50" x2="58.50" y2="524.50" stroke="#111" stroke-width="1.0" />
<line x1="331.50" y1="524.50" x2="328.50" y2="524.50" stroke="#111" stroke-width="1.0" />
<line x1="55.50" y1="505.50" x2="58.50" y2="505.50" stroke="#111" stroke-width="1.0" />
<line x1="331.50" y1="505.50" x2="328.50" y2="505.50" stroke="#111" stroke-width="1.0" />
<line x1="55.50" y1="495.50" x2="58.50" y2="495.50" stroke="#111" stroke-width="1.0" />
<line x1="331.50" y1="495.50" x2="328.50" y2="495.50" stroke="#111" stroke-width="1.0" />
<line x1="55.50" y1="488.50" x2="58.50" y2="488.50" stroke="#111" stroke-width="1.0" />
<line x1="331.50" y1="488.50" x2="328.50" y2="488.50" stroke="#111" stroke-width="1.0" />
<line x1="55.50" y1="483.50" x2="58.50" y2="483.50" stroke="#111" stroke-width="1.0" />
<line x1="331.50" y1="483.50" x2="328.50" y2="483.50" stroke="#111" stroke-width="1.0" />
<line x1="55.50" y1="478.50" x2="58.50" y2="478.50" stroke="#111" stroke-width="1.0" />
<line x1="331.50" y1="478.50" x2="328.50" y2="478.50" stroke="#111" stroke-width="1.0" />
<line x1="55.50" y1="475.50" x2="58.50" y2="475.50" stroke="#111" stroke-width="1.0" />
<line x1="331.50" y1="475.50" x2="328.50" y2="475.50" stroke="#111" stroke-width="1.0" />
<line x1="55.50" y1="471.50" x2="58.50" y2="471.50" stroke="#111" stroke-width="1.0" />
<line x1="331.50" y1="471.50" x2="328.50" y2="471.50" stroke="#111" stroke-width="1.0" />
<line x1="55.50" y1="469.50" x2="58.50" y2="469.50" stroke="#111" stroke-width="1.0" />
<line x1="331.50" y1="469.50" x2="328.50" y2="469.50" stroke="#111" stroke-width="1.0" />
<line x1="55.50" y1="449.50" x2="58.50" y2="449.50" stroke="#111" stroke-width="1.0" />
<line x1="331.50" y1="449.50" x2="328.50" y2="449.50" stroke="#111" stroke-width="1.0" />
<line x1="55.50" y1="440.50" x2="58.50" y2="440.50" stroke="#111" stroke-width="1.0" />
<line x1="331.50" y1="440.50" x2="328.50" y2="440.50" stroke="#111" stroke-width="1.0" />
<line x1="55.50" y1="433.50" x2="58.50" y2="433.50" stroke="#111" stroke-width="1.0" />
<line x1="331.50" y1="433.50" x2="328.50" y2="433.50" stroke="#111" stroke-width="1.0" />
<line x1="55.50" y1="427.50" x2="58.50" y2="427.50" stroke="#111" stroke-width="1.0" />
<line x1="331.50" y1="427.50" x2="328.50" y2="427.50" stroke="#111" stroke-width="1.0" />
<line x1="55.50" y1="423.50" x2="58.50" y2="423.50" stroke="#111" stroke-width="1.0" />
<line x1="331.50" y1="423.50" x2="328.50" y2="423.50" stroke="#111" stroke-width="1.0" />
<line x1="55.50" y1="419.50" x2="58.50" y2="419.50" stroke="#111" stroke-width="1.0" />
<line x1="331.50" y1="419.50" x2="328.50" y2="419.50" stroke="#111" stroke-width="1.0" />
<line x1="55.50" y1="416.50" x2="58.50" y2="416.50" stroke="#111" stroke-width="1.0" />
<line x1="331.50" y1="416.50" x2="328.50" y2="416.50" stroke="#111" stroke-width="1.0" />
<line x1="55.50" y1="413.50" x2="58.50" y2="413.50" stroke="#111" stroke-width="1.0" />
<line x1="331.50" y1="413.50" x2="328.50" y2="413.50" stroke="#111" stroke-width="1.0" />
<line x1="55.50" y1="394.50" x2="58.50" y2="394.50" stroke="#111" stroke-width="1.0" />
<line x1="331.50" y1="394.50" x2="328.50" y2="394.50" stroke="#111" stroke-width="1.0" />
<line x1="55.50" y1="385.50" x2="58.50" y2="385.50" stroke="#111" stroke-width="1.0" />
<line x1="331.50" y1="385.50" x2="328.50" y2="385.50" stroke="#111" stroke-width="1.0" />
<line x1="55.50" y1="378.50" x2="58.50" y2="378.50" stroke="#111" stroke-width="1.0" />
<line x1="331.50" y1="378.50" x2="328.50" y2="378.50" stroke="#111" stroke-width="1.0" />
<line x1="55.50" y1="372.50" x2="58.50" y2="372.50" stroke="#111" stroke-width="1.0" />
<line x1="331.50" y1="372.50" x2="328.50" y2="372.50" stroke="#111" stroke-width="1.0" />
<line x1="55.50" y1="368.50" x2="58.50" y2="368.50" stroke="#111" stroke-width="1.0" />
<line x1="331.50" y1="368.50" x2="328.50" y2="368.50" stroke="#111" stroke-width="1.0" />
<line x1="55.50" y1="364.50" x2="58.50" y2="364.50" stroke="#111" stroke-width="1.0" />
<line x1="331.50" y1="364.50" x2="328.50" y2="364.50" stroke="#111" stroke-width="1.0" />
<line x1="55.50" y1="361.50" x2="58.50" y2="361.50" stroke="#111" stroke-width="1.0" />
<line x1="331.50" y1="361.50" x2="328.50" y2="361.50" stroke="#111" stroke-width="1.0" />
<line x1="55.50" y1="358.50" x2="58.50" y2="358.50" stroke="#111" stroke-width="1.0" />
<line x1="331.50" y1="358.50" x2="328.50" y2="358.50" stroke="#111" stroke-width="1.0" />
<rect x="55.50" y="339.65" width="276.00" height="275.65" fill="none" stroke="#111" stroke-width="1.1"/>
<text x="72.30" y="634.30" font-size="13.2" text-anchor="middle" fill="#000" stroke="#000" stroke-width="0.15" >10<tspan font-size="9.3" dy="-5.3">0</tspan></text>
<text x="127.30" y="634.30" font-size="13.2" text-anchor="middle" fill="#000" stroke="#000" stroke-width="0.15" >10<tspan font-size="9.3" dy="-5.3">1</tspan></text>
<text x="182.30" y="634.30" font-size="13.2" text-anchor="middle" fill="#000" stroke="#000" stroke-width="0.15" >10<tspan font-size="9.3" dy="-5.3">2</tspan></text>
<text x="237.30" y="634.30" font-size="13.2" text-anchor="middle" fill="#000" stroke="#000" stroke-width="0.15" >10<tspan font-size="9.3" dy="-5.3">3</tspan></text>
<text x="292.30" y="634.30" font-size="13.2" text-anchor="middle" fill="#000" stroke="#000" stroke-width="0.15" >10<tspan font-size="9.3" dy="-5.3">4</tspan></text>
<text x="49.30" y="361.00" font-size="13.2" text-anchor="end" fill="#000" stroke="#000" stroke-width="0.15" >10<tspan font-size="9.3" dy="-5.3">0</tspan></text>
<text x="49.30" y="416.10" font-size="13.2" text-anchor="end" fill="#000" stroke="#000" stroke-width="0.15" >10<tspan font-size="9.3" dy="-5.3">−1</tspan></text>
<text x="49.30" y="471.20" font-size="13.2" text-anchor="end" fill="#000" stroke="#000" stroke-width="0.15" >10<tspan font-size="9.3" dy="-5.3">−2</tspan></text>
<text x="49.30" y="526.30" font-size="13.2" text-anchor="end" fill="#000" stroke="#000" stroke-width="0.15" >10<tspan font-size="9.3" dy="-5.3">−3</tspan></text>
<text x="49.30" y="581.40" font-size="13.2" text-anchor="end" fill="#000" stroke="#000" stroke-width="0.15" >10<tspan font-size="9.3" dy="-5.3">−4</tspan></text>
<text x="193.80" y="660.00" font-size="19.5" text-anchor="middle" fill="#000"  ><tspan font-size="11.5" dy="-8">12</tspan><tspan dy="8">C/</tspan><tspan font-size="11.5" dy="-8">13</tspan><tspan dy="8">C</tspan></text>
<text transform="translate(17.0,477.75) rotate(-90)" font-size="19.5" text-anchor="middle"><tspan font-size="11.5" dy="-8">26</tspan><tspan dy="8">Al/</tspan><tspan font-size="11.5" dy="-8">27</tspan><tspan dy="8">Al</tspan></text>
<rect x="423.50" y="506.40" width="275.00" height="36.60" fill="#ffe3e3"/>
<rect x="423.50" y="543.00" width="275.00" height="72.30" fill="#ffcaca"/>
<line x1="423.50" y1="543.00" x2="698.50" y2="543.00" stroke="#ffa2a2" stroke-width="1.6" />
<line x1="423.50" y1="506.40" x2="698.50" y2="506.40" stroke="#ff1a1a" stroke-width="1.3" />
<line x1="599.80" y1="339.65" x2="599.80" y2="615.30" stroke="#1a1a1a" stroke-width="1.2" />
<text x="428.80" y="503.90" font-size="9.6" text-anchor="start" fill="#ff1a1a" stroke="#ff1a1a" stroke-width="0.25" letter-spacing="-0.3">M0</text>
<text x="429.50" y="540.30" font-size="9.5" text-anchor="start" fill="#000" stroke="#000" stroke-width="0.25" >−100</text>
<text transform="translate(596.90,384.80) rotate(-90)" font-size="9.5" fill="#000" stroke="#000" stroke-width="0.25" >terrestrial</text>
<text x="431.40" y="357.00" font-size="14" text-anchor="start" fill="#000" stroke="#000" stroke-width="0.15" letter-spacing="-0.5">(d)</text>
<polygon points="614.60,504.05 619.50,506.75 614.60,509.45" fill="#ff0000" stroke="#3a0000" stroke-width="0.55"/>
<polygon points="577.40,513.50 582.30,516.20 577.40,518.90" fill="#ff0000" stroke="#3a0000" stroke-width="0.55"/>
<polygon points="657.55,516.60 662.45,519.30 657.55,522.00" fill="#ff0000" stroke="#3a0000" stroke-width="0.55"/>
<polygon points="605.75,550.40 610.65,553.10 605.75,555.80" fill="#ff0000" stroke="#3a0000" stroke-width="0.55"/>
<polygon points="601.00,557.30 605.90,560.00 601.00,562.70" fill="#ff0000" stroke="#3a0000" stroke-width="0.55"/>
<polygon points="605.35,561.70 610.25,564.40 605.35,567.10" fill="#ff0000" stroke="#3a0000" stroke-width="0.55"/>
<polygon points="651.20,560.95 656.10,563.65 651.20,566.35" fill="#ff0000" stroke="#3a0000" stroke-width="0.55"/>
<polygon points="601.20,571.85 606.10,574.55 601.20,577.25" fill="#ff0000" stroke="#3a0000" stroke-width="0.55"/>
<polygon points="639.00,600.00 643.90,602.70 639.00,605.40" fill="#ff0000" stroke="#3a0000" stroke-width="0.55"/>
<line x1="431.50" y1="615.30" x2="431.50" y2="610.10" stroke="#111" stroke-width="1.0" />
<line x1="431.50" y1="339.65" x2="431.50" y2="344.85" stroke="#111" stroke-width="1.0" />
<line x1="518.50" y1="615.30" x2="518.50" y2="610.10" stroke="#111" stroke-width="1.0" />
<line x1="518.50" y1="339.65" x2="518.50" y2="344.85" stroke="#111" stroke-width="1.0" />
<line x1="604.50" y1="615.30" x2="604.50" y2="610.10" stroke="#111" stroke-width="1.0" />
<line x1="604.50" y1="339.65" x2="604.50" y2="344.85" stroke="#111" stroke-width="1.0" />
<line x1="690.50" y1="615.30" x2="690.50" y2="610.10" stroke="#111" stroke-width="1.0" />
<line x1="690.50" y1="339.65" x2="690.50" y2="344.85" stroke="#111" stroke-width="1.0" />
<line x1="427.50" y1="615.30" x2="427.50" y2="612.30" stroke="#111" stroke-width="1.0" />
<line x1="427.50" y1="339.65" x2="427.50" y2="342.65" stroke="#111" stroke-width="1.0" />
<line x1="457.50" y1="615.30" x2="457.50" y2="612.30" stroke="#111" stroke-width="1.0" />
<line x1="457.50" y1="339.65" x2="457.50" y2="342.65" stroke="#111" stroke-width="1.0" />
<line x1="472.50" y1="615.30" x2="472.50" y2="612.30" stroke="#111" stroke-width="1.0" />
<line x1="472.50" y1="339.65" x2="472.50" y2="342.65" stroke="#111" stroke-width="1.0" />
<line x1="483.50" y1="615.30" x2="483.50" y2="612.30" stroke="#111" stroke-width="1.0" />
<line x1="483.50" y1="339.65" x2="483.50" y2="342.65" stroke="#111" stroke-width="1.0" />
<line x1="492.50" y1="615.30" x2="492.50" y2="612.30" stroke="#111" stroke-width="1.0" />
<line x1="492.50" y1="339.65" x2="492.50" y2="342.65" stroke="#111" stroke-width="1.0" />
<line x1="498.50" y1="615.30" x2="498.50" y2="612.30" stroke="#111" stroke-width="1.0" />
<line x1="498.50" y1="339.65" x2="498.50" y2="342.65" stroke="#111" stroke-width="1.0" />
<line x1="504.50" y1="615.30" x2="504.50" y2="612.30" stroke="#111" stroke-width="1.0" />
<line x1="504.50" y1="339.65" x2="504.50" y2="342.65" stroke="#111" stroke-width="1.0" />
<line x1="509.50" y1="615.30" x2="509.50" y2="612.30" stroke="#111" stroke-width="1.0" />
<line x1="509.50" y1="339.65" x2="509.50" y2="342.65" stroke="#111" stroke-width="1.0" />
<line x1="514.50" y1="615.30" x2="514.50" y2="612.30" stroke="#111" stroke-width="1.0" />
<line x1="514.50" y1="339.65" x2="514.50" y2="342.65" stroke="#111" stroke-width="1.0" />
<line x1="544.50" y1="615.30" x2="544.50" y2="612.30" stroke="#111" stroke-width="1.0" />
<line x1="544.50" y1="339.65" x2="544.50" y2="342.65" stroke="#111" stroke-width="1.0" />
<line x1="559.50" y1="615.30" x2="559.50" y2="612.30" stroke="#111" stroke-width="1.0" />
<line x1="559.50" y1="339.65" x2="559.50" y2="342.65" stroke="#111" stroke-width="1.0" />
<line x1="570.50" y1="615.30" x2="570.50" y2="612.30" stroke="#111" stroke-width="1.0" />
<line x1="570.50" y1="339.65" x2="570.50" y2="342.65" stroke="#111" stroke-width="1.0" />
<line x1="578.50" y1="615.30" x2="578.50" y2="612.30" stroke="#111" stroke-width="1.0" />
<line x1="578.50" y1="339.65" x2="578.50" y2="342.65" stroke="#111" stroke-width="1.0" />
<line x1="585.50" y1="615.30" x2="585.50" y2="612.30" stroke="#111" stroke-width="1.0" />
<line x1="585.50" y1="339.65" x2="585.50" y2="342.65" stroke="#111" stroke-width="1.0" />
<line x1="591.50" y1="615.30" x2="591.50" y2="612.30" stroke="#111" stroke-width="1.0" />
<line x1="591.50" y1="339.65" x2="591.50" y2="342.65" stroke="#111" stroke-width="1.0" />
<line x1="596.50" y1="615.30" x2="596.50" y2="612.30" stroke="#111" stroke-width="1.0" />
<line x1="596.50" y1="339.65" x2="596.50" y2="342.65" stroke="#111" stroke-width="1.0" />
<line x1="600.50" y1="615.30" x2="600.50" y2="612.30" stroke="#111" stroke-width="1.0" />
<line x1="600.50" y1="339.65" x2="600.50" y2="342.65" stroke="#111" stroke-width="1.0" />
<line x1="630.50" y1="615.30" x2="630.50" y2="612.30" stroke="#111" stroke-width="1.0" />
<line x1="630.50" y1="339.65" x2="630.50" y2="342.65" stroke="#111" stroke-width="1.0" />
<line x1="645.50" y1="615.30" x2="645.50" y2="612.30" stroke="#111" stroke-width="1.0" />
<line x1="645.50" y1="339.65" x2="645.50" y2="342.65" stroke="#111" stroke-width="1.0" />
<line x1="656.50" y1="615.30" x2="656.50" y2="612.30" stroke="#111" stroke-width="1.0" />
<line x1="656.50" y1="339.65" x2="656.50" y2="342.65" stroke="#111" stroke-width="1.0" />
<line x1="664.50" y1="615.30" x2="664.50" y2="612.30" stroke="#111" stroke-width="1.0" />
<line x1="664.50" y1="339.65" x2="664.50" y2="342.65" stroke="#111" stroke-width="1.0" />
<line x1="671.50" y1="615.30" x2="671.50" y2="612.30" stroke="#111" stroke-width="1.0" />
<line x1="671.50" y1="339.65" x2="671.50" y2="342.65" stroke="#111" stroke-width="1.0" />
<line x1="677.50" y1="615.30" x2="677.50" y2="612.30" stroke="#111" stroke-width="1.0" />
<line x1="677.50" y1="339.65" x2="677.50" y2="342.65" stroke="#111" stroke-width="1.0" />
<line x1="682.50" y1="615.30" x2="682.50" y2="612.30" stroke="#111" stroke-width="1.0" />
<line x1="682.50" y1="339.65" x2="682.50" y2="342.65" stroke="#111" stroke-width="1.0" />
<line x1="686.50" y1="615.30" x2="686.50" y2="612.30" stroke="#111" stroke-width="1.0" />
<line x1="686.50" y1="339.65" x2="686.50" y2="342.65" stroke="#111" stroke-width="1.0" />
<line x1="423.50" y1="592.50" x2="428.70" y2="592.50" stroke="#111" stroke-width="1.0" />
<line x1="698.50" y1="592.50" x2="693.30" y2="592.50" stroke="#111" stroke-width="1.0" />
<line x1="423.50" y1="564.50" x2="428.70" y2="564.50" stroke="#111" stroke-width="1.0" />
<line x1="698.50" y1="564.50" x2="693.30" y2="564.50" stroke="#111" stroke-width="1.0" />
<line x1="423.50" y1="535.50" x2="428.70" y2="535.50" stroke="#111" stroke-width="1.0" />
<line x1="698.50" y1="535.50" x2="693.30" y2="535.50" stroke="#111" stroke-width="1.0" />
<line x1="423.50" y1="506.50" x2="428.70" y2="506.50" stroke="#111" stroke-width="1.0" />
<line x1="698.50" y1="506.50" x2="693.30" y2="506.50" stroke="#111" stroke-width="1.0" />
<line x1="423.50" y1="477.50" x2="428.70" y2="477.50" stroke="#111" stroke-width="1.0" />
<line x1="698.50" y1="477.50" x2="693.30" y2="477.50" stroke="#111" stroke-width="1.0" />
<line x1="423.50" y1="448.50" x2="428.70" y2="448.50" stroke="#111" stroke-width="1.0" />
<line x1="698.50" y1="448.50" x2="693.30" y2="448.50" stroke="#111" stroke-width="1.0" />
<line x1="423.50" y1="419.50" x2="428.70" y2="419.50" stroke="#111" stroke-width="1.0" />
<line x1="698.50" y1="419.50" x2="693.30" y2="419.50" stroke="#111" stroke-width="1.0" />
<line x1="423.50" y1="390.50" x2="428.70" y2="390.50" stroke="#111" stroke-width="1.0" />
<line x1="698.50" y1="390.50" x2="693.30" y2="390.50" stroke="#111" stroke-width="1.0" />
<line x1="423.50" y1="361.50" x2="428.70" y2="361.50" stroke="#111" stroke-width="1.0" />
<line x1="698.50" y1="361.50" x2="693.30" y2="361.50" stroke="#111" stroke-width="1.0" />
<line x1="423.50" y1="607.50" x2="426.50" y2="607.50" stroke="#111" stroke-width="1.0" />
<line x1="698.50" y1="607.50" x2="695.50" y2="607.50" stroke="#111" stroke-width="1.0" />
<line x1="423.50" y1="578.50" x2="426.50" y2="578.50" stroke="#111" stroke-width="1.0" />
<line x1="698.50" y1="578.50" x2="695.50" y2="578.50" stroke="#111" stroke-width="1.0" />
<line x1="423.50" y1="549.50" x2="426.50" y2="549.50" stroke="#111" stroke-width="1.0" />
<line x1="698.50" y1="549.50" x2="695.50" y2="549.50" stroke="#111" stroke-width="1.0" />
<line x1="423.50" y1="520.50" x2="426.50" y2="520.50" stroke="#111" stroke-width="1.0" />
<line x1="698.50" y1="520.50" x2="695.50" y2="520.50" stroke="#111" stroke-width="1.0" />
<line x1="423.50" y1="491.50" x2="426.50" y2="491.50" stroke="#111" stroke-width="1.0" />
<line x1="698.50" y1="491.50" x2="695.50" y2="491.50" stroke="#111" stroke-width="1.0" />
<line x1="423.50" y1="462.50" x2="426.50" y2="462.50" stroke="#111" stroke-width="1.0" />
<line x1="698.50" y1="462.50" x2="695.50" y2="462.50" stroke="#111" stroke-width="1.0" />
<line x1="423.50" y1="433.50" x2="426.50" y2="433.50" stroke="#111" stroke-width="1.0" />
<line x1="698.50" y1="433.50" x2="695.50" y2="433.50" stroke="#111" stroke-width="1.0" />
<line x1="423.50" y1="405.50" x2="426.50" y2="405.50" stroke="#111" stroke-width="1.0" />
<line x1="698.50" y1="405.50" x2="695.50" y2="405.50" stroke="#111" stroke-width="1.0" />
<line x1="423.50" y1="376.50" x2="426.50" y2="376.50" stroke="#111" stroke-width="1.0" />
<line x1="698.50" y1="376.50" x2="695.50" y2="376.50" stroke="#111" stroke-width="1.0" />
<line x1="423.50" y1="347.50" x2="426.50" y2="347.50" stroke="#111" stroke-width="1.0" />
<line x1="698.50" y1="347.50" x2="695.50" y2="347.50" stroke="#111" stroke-width="1.0" />
<rect x="423.50" y="339.65" width="275.00" height="275.65" fill="none" stroke="#111" stroke-width="1.1"/>
<text x="431.60" y="634.50" font-size="13.2" text-anchor="middle" fill="#000" stroke="#000" stroke-width="0.15" >10<tspan font-size="9.3" dy="-5.3">0</tspan></text>
<text x="517.95" y="634.50" font-size="13.2" text-anchor="middle" fill="#000" stroke="#000" stroke-width="0.15" >10<tspan font-size="9.3" dy="-5.3">1</tspan></text>
<text x="604.30" y="634.50" font-size="13.2" text-anchor="middle" fill="#000" stroke="#000" stroke-width="0.15" >10<tspan font-size="9.3" dy="-5.3">2</tspan></text>
<text x="690.65" y="634.50" font-size="13.2" text-anchor="middle" fill="#000" stroke="#000" stroke-width="0.15" >10<tspan font-size="9.3" dy="-5.3">3</tspan></text>
<text x="417.50" y="597.60" font-size="13.2" text-anchor="end" fill="#000" stroke="#000" stroke-width="0.15" >−600</text>
<text x="417.50" y="568.70" font-size="13.2" text-anchor="end" fill="#000" stroke="#000" stroke-width="0.15" >−400</text>
<text x="417.50" y="539.80" font-size="13.2" text-anchor="end" fill="#000" stroke="#000" stroke-width="0.15" >−200</text>
<text x="417.50" y="510.90" font-size="13.2" text-anchor="end" fill="#000" stroke="#000" stroke-width="0.15" >0</text>
<text x="417.50" y="482.00" font-size="13.2" text-anchor="end" fill="#000" stroke="#000" stroke-width="0.15" >+200</text>
<text x="417.50" y="453.10" font-size="13.2" text-anchor="end" fill="#000" stroke="#000" stroke-width="0.15" >+400</text>
<text x="417.50" y="424.20" font-size="13.2" text-anchor="end" fill="#000" stroke="#000" stroke-width="0.15" >+600</text>
<text x="417.50" y="395.30" font-size="13.2" text-anchor="end" fill="#000" stroke="#000" stroke-width="0.15" >+800</text>
<text x="417.50" y="366.40" font-size="13.2" text-anchor="end" fill="#000" stroke="#000" stroke-width="0.15" >+1000</text>
<text x="561.50" y="660.50" font-size="19.5" text-anchor="middle" fill="#000"  ><tspan font-size="11.5" dy="-8">12</tspan><tspan dy="8">C/</tspan><tspan font-size="11.5" dy="-8">13</tspan><tspan dy="8">C</tspan></text>
<text transform="translate(380.6,477.5) rotate(-90)" font-size="18.3" text-anchor="middle">Δ<tspan font-size="11" dy="-7.5">30</tspan><tspan dy="7.5">Si (‰)</tspan></text>
</svg></body></html>
